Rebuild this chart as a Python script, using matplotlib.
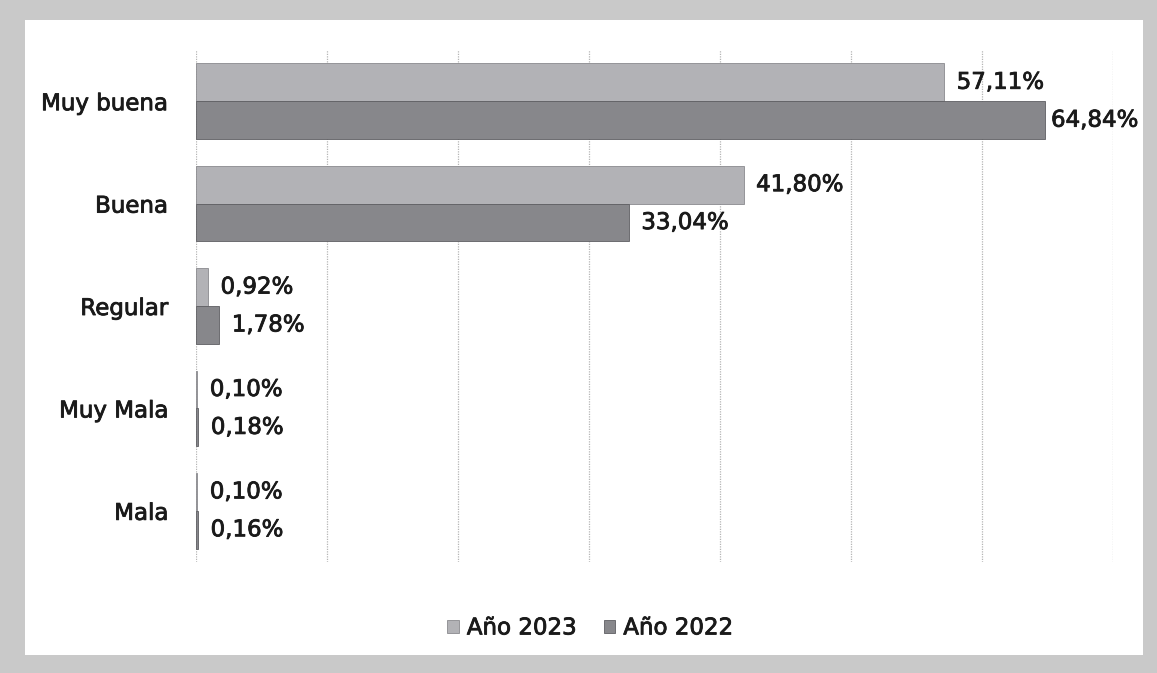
import matplotlib.pyplot as plt
import matplotlib.patches as mpatches
import matplotlib.patheffects as pe
import numpy as np

categorias = ['Muy buena', 'Buena', 'Regular', 'Muy Mala', 'Mala']
valores_2023 = [57.11, 41.80, 0.92, 0.10, 0.10]
valores_2022 = [64.84, 33.04, 1.78, 0.18, 0.16]
series = ['Año 2023', 'Año 2022']

color_2023 = '#b2b2b6'
color_2022 = '#87878b'
texto = '#1a1a1a'

plt.rcParams['font.family'] = ['DejaVu Sans']

fig = plt.figure(figsize=(11.57, 6.73), dpi=100, facecolor='#c9c9c9')
fig.patches.append(mpatches.Rectangle((0.0216, 0.0267), 0.9663, 0.9436,
                                      transform=fig.transFigure,
                                      facecolor='white', edgecolor='none', zorder=0))

ax = fig.add_axes([0.1694, 0.1649, 0.7926, 0.7608])
ax.set_zorder(2)
ax.set_facecolor('none')

grueso = [pe.withStroke(linewidth=0.6, foreground=texto)]

y = np.arange(len(categorias))
h = 0.37
b1 = ax.barh(y - h / 2, valores_2023, height=h, color=color_2023, edgecolor='#8a8a8e',
             linewidth=0.6, label=series[0], zorder=2)
b2 = ax.barh(y + h / 2, valores_2022, height=h, color=color_2022, edgecolor='#5e5e62',
             linewidth=0.6, label=series[1], zorder=2)

for bars, vals in [(b1, valores_2023), (b2, valores_2022)]:
    for bar, v in zip(bars, vals):
        # the longest label sits closer to its bar so it stays inside the frame
        off = 4 if v > 62 else 9
        ax.annotate(f"{v:.2f}%".replace('.', ','),
                    (bar.get_width(), bar.get_y() + bar.get_height() / 2),
                    xytext=(off, 0), textcoords='offset points',
                    ha='left', va='center', fontsize=16.5, color=texto,
                    path_effects=grueso)

ax.set_xlim(0, 70)
ax.set_ylim(len(categorias) - 0.5, -0.5)
ax.set_xticks(np.arange(0, 71, 10))
ax.set_xticklabels([])
ax.set_yticks(y)
ax.set_yticklabels(categorias, fontsize=16.5, color=texto, path_effects=grueso)
ax.tick_params(axis='both', length=0)
ax.tick_params(axis='y', pad=20)
ax.grid(axis='x', color='#b5b5b5', linestyle=(0, (1, 1)), linewidth=0.9, zorder=1)
for s in ax.spines.values():
    s.set_visible(False)

leg = fig.legend(handles=[b1, b2], labels=series, loc='center', bbox_to_anchor=(0.51, 0.067),
                 ncol=2, frameon=False, fontsize=16.5, handlelength=0.5, handleheight=0.5,
                 handletextpad=0.35, columnspacing=1.2, labelcolor=texto)
for t in leg.get_texts():
    t.set_path_effects(grueso)
leg.set_zorder(3)

plt.savefig('out.png', dpi=100, facecolor=fig.get_facecolor())
